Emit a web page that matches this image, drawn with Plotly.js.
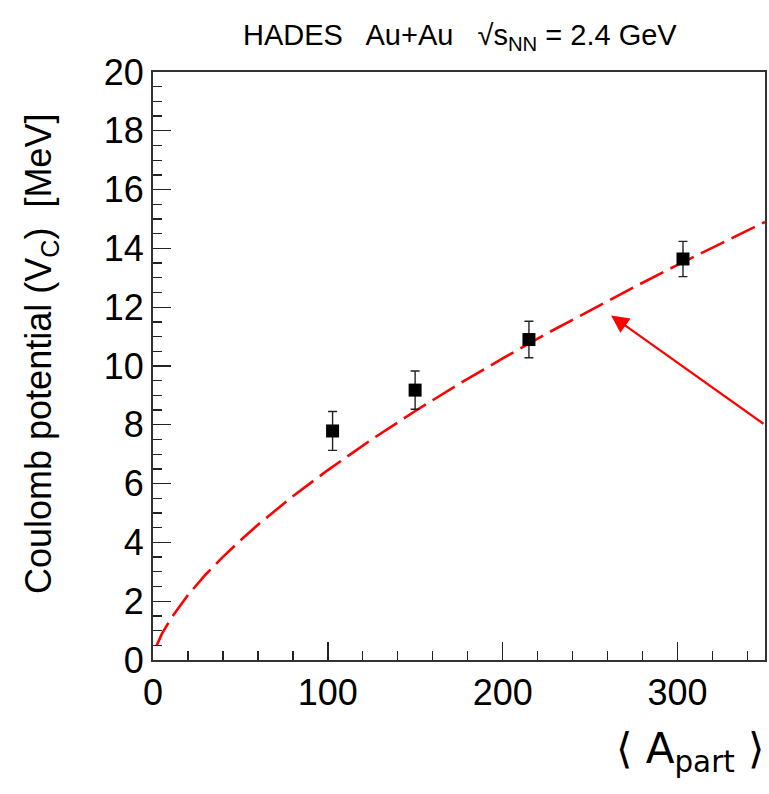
<!DOCTYPE html>
<html>
<head>
<meta charset="utf-8">
<script src="https://cdn.plot.ly/plotly-3.0.1.min.js"></script>
<style>html,body{margin:0;padding:0;background:#fff;}#chart{width:769px;height:794px;}</style>
</head>
<body>
<div id="chart"></div>
<script>
// Measured data points
const apart = [102.7, 149.9, 215, 303.1];
const vc = [7.79, 9.18, 10.9, 13.64];
const vcErr = [0.66, 0.65, 0.62, 0.6];

// Dashed red curve
const curveA = [2, 5, 10, 20, 30, 40, 50, 60, 80, 100, 125, 150, 175, 200, 225, 250, 275, 300, 325, 350];
const curveV = [0.48, 0.88, 1.39, 2.21, 2.90, 3.51, 4.07, 4.60, 5.57, 6.46, 7.50, 8.47, 9.39, 10.26, 11.10, 11.90, 12.68, 13.44, 14.17, 14.90];

// Arrow (tail -> head)
const arrowTail = [350, 8.0];
const arrowHead = [262, 11.72];

const xTicks = [0, 100, 200, 300];
const yTicks = [0, 2, 4, 6, 8, 10, 12, 14, 16, 18, 20];

const FONT = "Liberation Sans, Arial, Helvetica, sans-serif";

const traces = [
  {
    x: curveA, y: curveV, type: 'scatter', mode: 'lines',
    line: {color: '#ff0000', width: 2.6, dash: '26px,8px'},
    hoverinfo: 'skip', cliponaxis: true
  },
  {
    x: apart, y: vc, type: 'scatter', mode: 'markers',
    marker: {symbol: 'square', size: 13, color: '#000'},
    error_y: {type: 'data', array: vcErr, visible: true, color: '#222', thickness: 1.4, width: 4.5}
  }
];

const layout = {
  width: 769, height: 794,
  margin: {l: 153, r: 4, t: 72, b: 134},
  paper_bgcolor: '#fff', plot_bgcolor: '#fff',
  showlegend: false,
  font: {family: FONT, color: '#000'},
  xaxis: {
    range: [0, 350], tickvals: xTicks, ticktext: xTicks.map(String),
    ticks: 'inside', ticklen: 18, tickwidth: 1.3, tickcolor: '#222',
    minor: {dtick: 20, tick0: 0, ticks: 'inside', ticklen: 9, tickwidth: 1.3, tickcolor: '#222', showgrid: false},
    showline: true, linecolor: '#333', linewidth: 2, mirror: true,
    showgrid: false, zeroline: false,
    tickfont: {size: 36, family: FONT, color: '#000'}
  },
  yaxis: {
    range: [0, 20], tickvals: yTicks, ticktext: yTicks.map(String),
    ticks: 'inside', ticklen: 18, tickwidth: 1.3, tickcolor: '#222',
    minor: {dtick: 0.5, tick0: 0, ticks: 'inside', ticklen: 9, tickwidth: 1.3, tickcolor: '#222', showgrid: false},
    showline: true, linecolor: '#333', linewidth: 2, mirror: true,
    showgrid: false, zeroline: false,
    tickfont: {size: 36, family: FONT, color: '#000'}
  },
  annotations: [
    {
      x: arrowHead[0], y: arrowHead[1], ax: arrowTail[0], ay: arrowTail[1],
      xref: 'x', yref: 'y', axref: 'x', ayref: 'y',
      text: '', showarrow: true, arrowhead: 2, arrowsize: 1.6, arrowwidth: 2.2, arrowcolor: '#ff0000'
    },
    {
      text: 'HADES   Au+Au   √s<sub>NN</sub> = 2.4 GeV',
      xref: 'paper', yref: 'paper', x: 0.5, y: 1, xanchor: 'center', yanchor: 'bottom', yshift: 15,
      xshift: 1,
      showarrow: false, font: {size: 29, family: FONT, color: '#000'}
    },
    {
      text: 'Coulomb potential (V<sub>C</sub>)  [MeV]',
      xref: 'paper', yref: 'paper', x: 0, y: 0.5, xanchor: 'center', yanchor: 'middle',
      xshift: -112, yshift: 12, textangle: -90,
      showarrow: false, font: {size: 36, family: FONT, color: '#000'}
    },
    {
      text: '⟨ A<sub>part</sub> ⟩',
      xref: 'paper', yref: 'paper', x: 1, y: 0, xanchor: 'right', yanchor: 'top',
      yshift: -62, xshift: 2,
      showarrow: false, font: {size: 42, family: "DejaVu Sans, Liberation Sans, sans-serif", color: '#000'}
    }
  ]
};

Plotly.newPlot('chart', traces, layout, {displayModeBar: false, staticPlot: true});
</script>
</body>
</html>
